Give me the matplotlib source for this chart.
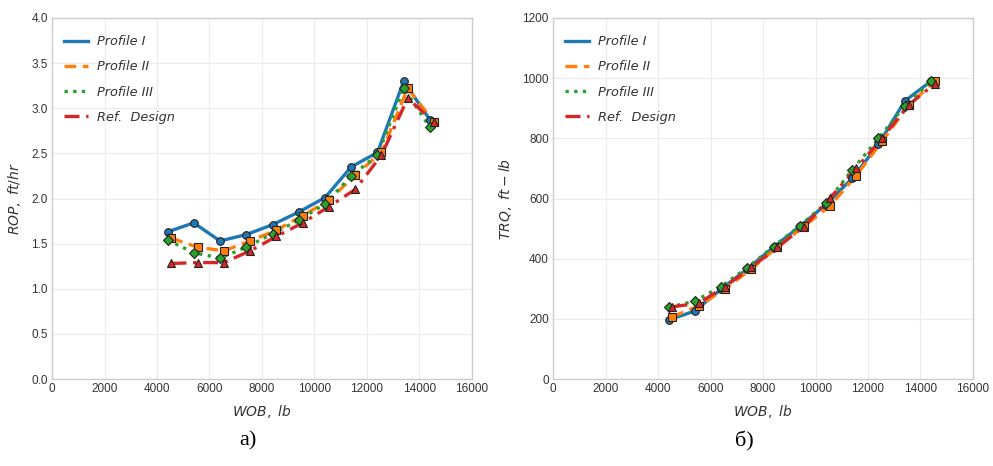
import matplotlib
matplotlib.use("Agg")
import matplotlib.pyplot as plt

# ---------------- data ----------------
wob = [4400, 5400, 6400, 7400, 8400, 9400, 10400, 11400, 12400, 13400, 14400]
wob_shift = 150  # horizontal offset of Profile II / Ref. Design markers

rop_p1 = [1.63, 1.73, 1.53, 1.60, 1.71, 1.85, 2.01, 2.35, 2.51, 3.30, 2.87]
rop_p2 = [1.56, 1.46, 1.42, 1.53, 1.65, 1.81, 1.98, 2.26, 2.51, 3.22, 2.85]
rop_p3 = [1.54, 1.40, 1.34, 1.46, 1.61, 1.76, 1.94, 2.25, 2.48, 3.22, 2.79]
rop_ref = [1.28, 1.29, 1.29, 1.42, 1.58, 1.73, 1.91, 2.10, 2.48, 3.11, 2.85]

trq_p1 = [196, 226, 298, 366, 438, 507, 580, 667, 780, 924, 990]
trq_p2 = [207, 243, 299, 366, 438, 507, 575, 676, 792, 911, 990]
trq_p3 = [238, 259, 307, 370, 440, 509, 584, 695, 800, 908, 990]
trq_ref = [240, 252, 307, 371, 438, 506, 601, 700, 802, 911, 982]

labels = ["Profile I", "Profile II", "Profile III", "Ref.  Design"]
colors = ["#1f77b4", "#ff7f0e", "#2ca02c", "#d62728"]
styles = ["-", (0, (3.5, 2)), (0, (1, 1.6)), (0, (4.5, 2, 1, 2))]
markers = ["o", "s", "D", "^"]
shifts = [0, wob_shift, 0, wob_shift]

xticks = [0, 2000, 4000, 6000, 8000, 10000, 12000, 14000, 16000]
rop_ticks = [0.0, 0.5, 1.0, 1.5, 2.0, 2.5, 3.0, 3.5, 4.0]
trq_ticks = [0, 200, 400, 600, 800, 1000, 1200]

fig = plt.figure(figsize=(9.93, 4.66), dpi=100)
ax1 = fig.add_axes([52 / 993, 87 / 466, 420 / 993, 361 / 466])
ax2 = fig.add_axes([553 / 993, 87 / 466, 420 / 993, 361 / 466])

tick_font = dict(family="Liberation Sans", size=8.5, color="#333333")


def draw(ax, series, yticks, ylim, ylabel, yfmt):
    ax.set_facecolor("white")
    for s in ax.spines.values():
        s.set_color("#cccccc")
        s.set_linewidth(1.0)
    ax.grid(True, color="#ebebeb", linewidth=0.8)
    ax.set_axisbelow(True)
    for ys, lab, c, ls, m, sh in zip(series, labels, colors, styles, markers, shifts):
        xs = [x + sh for x in wob]
        ax.plot(xs, ys, color=c, linestyle=ls, linewidth=2.4, label=lab, zorder=3)
        ax.plot(xs, ys, linestyle="none", marker=m, markersize=5.5,
                markerfacecolor=c, markeredgecolor="#222222", markeredgewidth=0.8, zorder=4)
    ax.set_xlim(0, 16000)
    ax.set_ylim(*ylim)
    ax.set_xticks(xticks)
    ax.set_yticks(yticks)
    ax.set_xticklabels([str(t) for t in xticks], fontdict=tick_font)
    ax.set_yticklabels([yfmt(t) for t in yticks], fontdict=tick_font)
    ax.tick_params(length=0, pad=3)
    ax.set_xlabel("$WOB,\\ lb$", fontsize=10, color="#333333", labelpad=6)
    ax.set_ylabel(ylabel, fontsize=10, color="#333333", labelpad=6)
    leg = ax.legend(loc="upper left", frameon=False, handlelength=1.9,
                    handletextpad=0.7, prop=dict(style="italic", size=9.3),
                    labelspacing=0.95, borderaxespad=0.5,
                    bbox_to_anchor=(0.0, 0.985))
    for t in leg.get_texts():
        t.set_color("#333333")


draw(ax1, [rop_p1, rop_p2, rop_p3, rop_ref], rop_ticks, (0, 4.0),
     "$ROP,\\ ft/hr$", lambda t: f"{t:.1f}")
draw(ax2, [trq_p1, trq_p2, trq_p3, trq_ref], trq_ticks, (0, 1200),
     "$TRQ,\\ ft-lb$", lambda t: f"{t:d}")

fig.text(248 / 993, 1 - 441 / 466, "а)", ha="center", va="center",
         family="Liberation Serif", fontsize=16)
fig.text(744 / 993, 1 - 441 / 466, "б)", ha="center", va="center",
         family="Liberation Serif", fontsize=16)

fig.savefig("out.png", dpi=100, facecolor="white")
